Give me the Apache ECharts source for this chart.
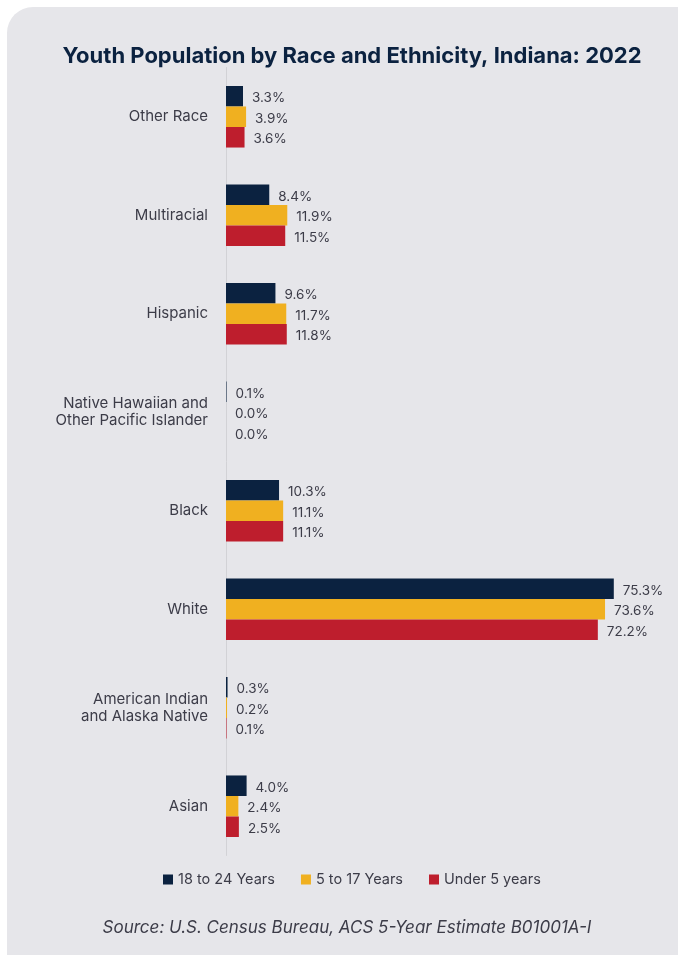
<!DOCTYPE html>
<html>
<head>
<meta charset="utf-8">
<script src="https://cdn.jsdelivr.net/npm/echarts@6/dist/echarts.min.js"></script>
<style>
  html, body { margin: 0; padding: 0; background: #ffffff; }
  #chart { width: 678px; height: 955px; }
</style>
</head>
<body>
<div id="chart"></div>
<script>
// Race / ethnicity groups, listed top to bottom
const categories = [
  'Other Race',
  'Multiracial',
  'Hispanic',
  'Native Hawaiian and\nOther Pacific Islander',
  'Black',
  'White',
  'American Indian\nand Alaska Native',
  'Asian'
];

// Share of each age group (%)
const ages18to24 = [3.3, 8.4, 9.6, 0.1, 10.3, 75.3, 0.3, 4.0];
const ages5to17  = [3.9, 11.9, 11.7, 0.0, 11.1, 73.6, 0.2, 2.4];
const under5     = [3.6, 11.5, 11.8, 0.0, 11.1, 72.2, 0.1, 2.5];

const seriesNames = ['18 to 24 Years', '5 to 17 Years', 'Under 5 years'];
const seriesColors = ['#0b2240', '#f0b020', '#be1e2d'];
const seriesData = [ages18to24, ages5to17, under5];

const FONT = 'Inter, "Noto Sans", sans-serif';
const TEXT = '#3c3c48';

const chart = echarts.init(document.getElementById('chart'));

chart.setOption({
  animation: false,
  backgroundColor: '#ffffff',
  graphic: [{
    type: 'rect',
    z: -10,
    shape: { x: 7, y: 7, width: 700, height: 980, r: 26 },
    style: { fill: '#e6e6ea' }
  }, {
    type: 'text',
    x: 347,
    y: 928,
    style: {
      text: 'Source: U.S. Census Bureau, ACS 5-Year Estimate B01001A-I',
      font: 'italic 17px ' + FONT,
      fill: TEXT,
      align: 'center',
      verticalAlign: 'middle'
    }
  }],
  title: {
    text: 'Youth Population by Race and Ethnicity, Indiana: 2022',
    left: 347,
    textAlign: 'center',
    top: 40,
    textStyle: {
      fontFamily: FONT,
      fontWeight: 'bold',
      fontSize: 22,
      color: '#0b2240'
    }
  },
  legend: {
    left: 163,
    top: 872,
    padding: 0,
    itemWidth: 10,
    itemHeight: 10,
    itemGap: 26,
    icon: 'rect',
    textStyle: { fontFamily: FONT, fontSize: 14.5, color: TEXT },
    data: seriesNames
  },
  grid: { left: 226, right: 40, top: 67.5, bottom: 99.5 },
  xAxis: {
    type: 'value',
    min: 0,
    max: 80,
    show: false
  },
  yAxis: {
    type: 'category',
    inverse: true,
    data: categories,
    axisLine: { show: true, lineStyle: { color: '#d2d2d6', width: 1 } },
    axisTick: { show: false },
    axisLabel: {
      margin: 18,
      fontFamily: FONT,
      fontSize: 15,
      lineHeight: 17,
      color: TEXT
    }
  },
  series: seriesData.map((d, i) => ({
    name: seriesNames[i],
    type: 'bar',
    data: d,
    barGap: '0%',
    barCategoryGap: '37.5%',
    itemStyle: { color: seriesColors[i] },
    label: {
      show: true,
      position: 'right',
      distance: 9,
      offset: [0, 2],
      formatter: p => p.value.toFixed(1) + '%',
      fontFamily: FONT,
      fontSize: 13.5,
      color: TEXT
    }
  }))
});
</script>
</body>
</html>
